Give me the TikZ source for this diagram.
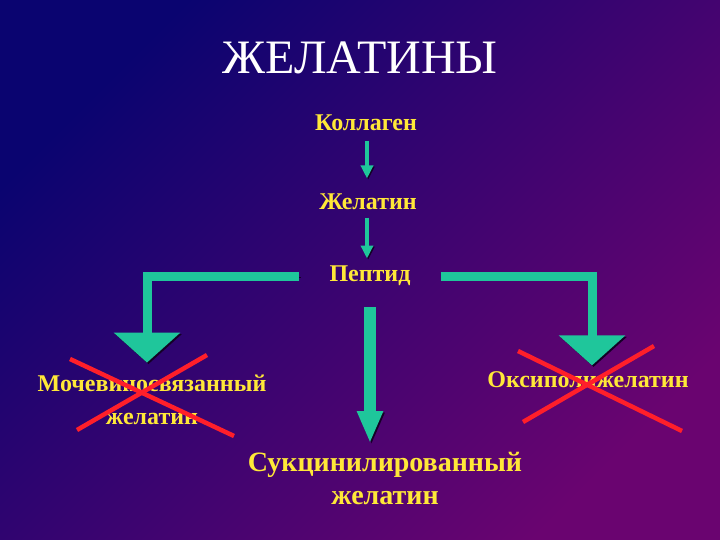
\documentclass[tikz,border=0pt]{standalone}
\usepackage{fontspec}
\setmainfont{Liberation Serif}
\usetikzlibrary{arrows.meta,positioning}
\definecolor{fondhaut}{HTML}{0A0470}
\definecolor{fondbas}{HTML}{6A0470}
\definecolor{jaune}{HTML}{FFE838}
\definecolor{turq}{HTML}{1FC69B}
\definecolor{ombre}{HTML}{140026}
\definecolor{rouge}{HTML}{FF1F2A}

\begin{document}
\begin{tikzpicture}[x=1pt,y=-1pt,
  lbl/.style={font=\fontsize{24}{33}\selectfont\bfseries,text=jaune,align=center},
  big/.style={font=\fontsize{28}{33}\selectfont\bfseries,text=jaune,align=center},
  thinarrow/.style={draw=turq,line width=4.5pt,-{Triangle[width=12pt,length=13pt]},
    preaction={draw=ombre,transform canvas={shift={(1.2pt,-1.2pt)}}}},
  bigarrow/.style={draw=turq,line width=9pt,-{Triangle[width=65pt,length=30pt]},
    preaction={draw=ombre,transform canvas={shift={(1.5pt,-1.5pt)}}}},
  midarrow/.style={draw=turq,line width=12pt,-{Triangle[width=24pt,length=32pt]},
    preaction={draw=ombre,transform canvas={shift={(1.5pt,-1.5pt)}}}},
  cross/.style={draw=rouge,line width=4.5pt}]
  % fond
  \shade[top color=fondhaut,bottom color=fondbas,shading angle=45] (0,0) rectangle (720,540);
  \useasboundingbox (0,0) rectangle (720,540);
  \node[font=\fontsize{48}{52}\selectfont,text=white] (titre) at (360,58) {ЖЕЛАТИНЫ};
  \node[lbl] (kol) at (366,123) {Коллаген};
  \node[lbl] (zhel) at (368,202) {Желатин};
  \node[lbl] (pep) at (370,276) {Пептид};
  \node[lbl] (moch) at (152,400) {Мочевиносвязанный\\желатин};
  \node[lbl] (oksi) at (588,380) {Оксиполижелатин};
  \node[big] (suk) at (385,478) {Сукцинилированный\\желатин};
  % fleches
  \draw[thinarrow,shorten <=6pt,shorten >=12pt] ([xshift=1pt]kol.south) -- ([xshift=1pt]kol.south |- zhel.north);
  \draw[thinarrow,shorten <=4pt,shorten >=4pt] ([xshift=1pt]kol.south |- zhel.south) -- ([xshift=1pt]kol.south |- pep.north);
  \draw[bigarrow,shorten <=27pt] (pep.west) -| ([xshift=-5pt,yshift=9pt]moch.north);
  \draw[bigarrow,shorten <=27pt] (pep.east) -| ([xshift=4pt,yshift=3pt]oksi.north);
  \draw[midarrow,shorten <=18pt,shorten >=5pt] (pep.south) -- (pep.south |- suk.north);
  % croix
  \draw[cross] (70,359) -- (234,436);
  \draw[cross] (207,355) -- (77,430);
  \draw[cross] (518,351) -- (682,431);
  \draw[cross] (654,346) -- (523,422);
\end{tikzpicture}
\end{document}
